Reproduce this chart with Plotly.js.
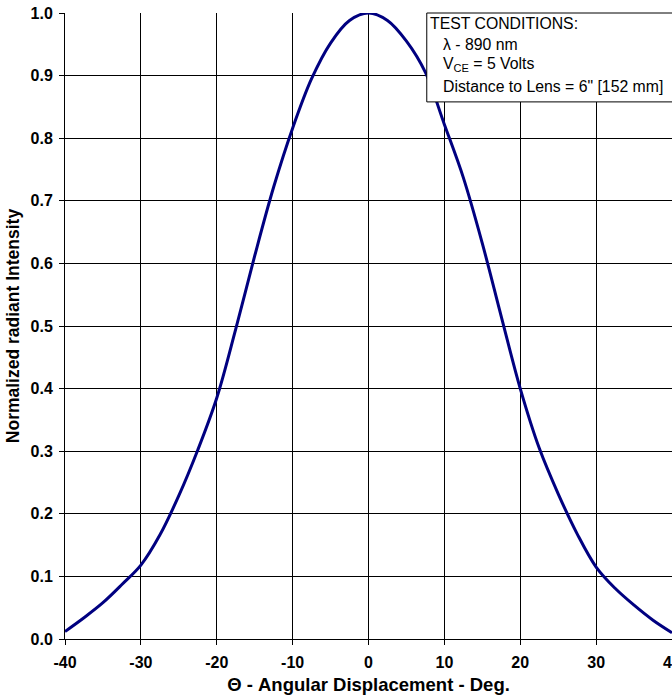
<!DOCTYPE html>
<html>
<head>
<meta charset="utf-8">
<script src="https://cdn.plot.ly/plotly-3.0.1.min.js"></script>
<style>html,body{margin:0;padding:0;background:#fff;}#chart{width:672px;height:700px;overflow:hidden;}</style>
</head>
<body>
<div id="chart"></div>
<script>
// Angular displacement (deg)
const angle = [-40, -37.5, -35, -32.5, -30, -27.5, -25, -22.5, -20, -17.5, -15, -12.5, -10, -7.5, -5, -2.5, 0,
               2.5, 5, 7.5, 10, 12.5, 15, 17.5, 20, 22.5, 25, 27.5, 30, 32.5, 35, 37.5, 40];
// Normalized radiant intensity
const intensity = [0.012, 0.034, 0.058, 0.087, 0.118, 0.166, 0.229, 0.302, 0.385, 0.495, 0.612, 0.722, 0.816, 0.895, 0.952, 0.988, 1.0,
                   0.988, 0.955, 0.905, 0.822, 0.737, 0.632, 0.515, 0.400, 0.305, 0.232, 0.168, 0.115, 0.081, 0.054, 0.030, 0.010];

const xTickVals = [-40, -30, -20, -10, 0, 10, 20, 30, 40];
const xTickText = ['-40', '-30', '-20', '-10', '0', '10', '20', '30', '40'];
const yTickVals = [0, 0.1, 0.2, 0.3, 0.4, 0.5, 0.6, 0.7, 0.8, 0.9, 1.0];
const yTickText = ['0.0', '0.1', '0.2', '0.3', '0.4', '0.5', '0.6', '0.7', '0.8', '0.9', '1.0'];

const conditions = [
  {text: 'TEST CONDITIONS:', indent: false},
  {text: '\u03BB - 890 nm', indent: true},
  {text: 'V<sub>CE</sub> = 5 Volts', indent: true},
  {text: 'Distance to Lens = 6" [152 mm]', indent: true}
];

const FONT = 'Arial, "Liberation Sans", sans-serif';

const trace = {
  x: angle, y: intensity, type: 'scatter', mode: 'lines',
  line: {color: '#000080', width: 3, shape: 'spline', smoothing: 1},
  hoverinfo: 'x+y'
};

const annotations = conditions.map((c, i) => ({
  xref: 'paper', yref: 'paper',
  x: c.indent ? 0.620 : 0.598,
  y: [0.984, 0.950, 0.917, 0.883][i],
  xanchor: 'left', yanchor: 'middle',
  text: c.text, showarrow: false, align: 'left',
  font: {family: FONT, size: 15.8, color: '#000'}
}));

const layout = {
  width: 672, height: 700,
  margin: {l: 65, r: 0, t: 13, b: 61},
  paper_bgcolor: '#fff', plot_bgcolor: '#fff',
  showlegend: false,
  font: {family: FONT, color: '#000'},
  xaxis: {
    range: [-40, 40], tickvals: xTickVals, ticktext: xTickText,
    showgrid: true, gridcolor: '#000', gridwidth: 1,
    zeroline: false, showline: true, linecolor: '#000', linewidth: 1,
    ticks: 'outside', ticklen: 5, tickcolor: '#000', ticklabelstandoff: 4,
    ticklabeloverflow: 'allow',
    tickfont: {family: FONT, size: 16, color: '#000', weight: 'bold'},
    title: {text: '\u0398 - Angular Displacement - Deg.', font: {family: FONT, size: 18.5, color: '#000', weight: 'bold'}, standoff: 7}
  },
  yaxis: {
    range: [0, 1], tickvals: yTickVals, ticktext: yTickText,
    showgrid: true, gridcolor: '#000', gridwidth: 1,
    zeroline: false, showline: true, linecolor: '#000', linewidth: 1,
    ticks: 'outside', ticklen: 5, tickcolor: '#000', ticklabelstandoff: 3,
    tickfont: {family: FONT, size: 16, color: '#000', weight: 'bold'},
    title: {text: 'Normalized radiant Intensity', font: {family: FONT, size: 17.5, color: '#000', weight: 'bold'}, standoff: 6}
  },
  shapes: [{
    type: 'rect', xref: 'paper', yref: 'paper',
    x0: 0.596, x1: 1.2, y0: 0.858, y1: 1.0,
    line: {color: '#000', width: 1}, fillcolor: '#fff', layer: 'above'
  }],
  annotations: annotations
};

Plotly.newPlot('chart', [trace], layout, {displayModeBar: false, staticPlot: true});
</script>
</body>
</html>
